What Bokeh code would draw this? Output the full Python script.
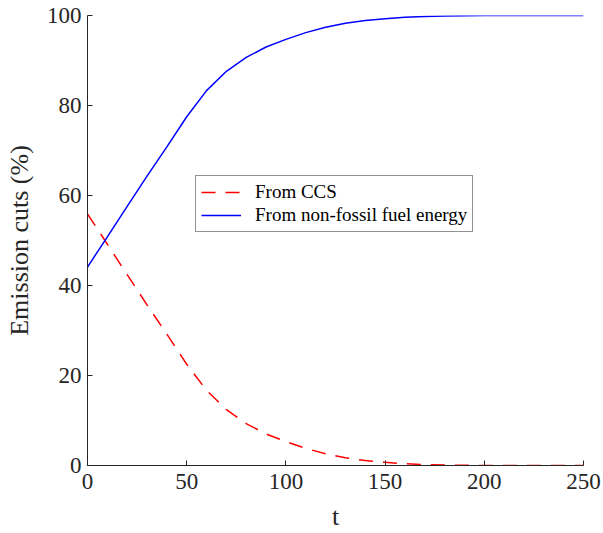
from bokeh.plotting import figure
from bokeh.models import Range1d, FixedTicker, Legend, LegendItem
from bokeh.embed import file_html
from bokeh.resources import INLINE

t = [0, 10, 20, 30, 40, 50, 60, 70, 80, 90, 100, 110, 120, 130, 140, 150,
     160, 170, 180, 190, 200, 210, 220, 230, 240, 250]
non_fossil = [44.1, 50.8, 57.6, 64.3, 70.8, 77.5, 83.3, 87.6, 90.7, 93.0, 94.7,
              96.2, 97.4, 98.3, 98.9, 99.3, 99.6, 99.8, 99.9, 99.95, 100.0,
              100.0, 100.0, 100.0, 100.0, 100.0]
ccs = [55.9, 49.2, 42.4, 35.7, 29.2, 22.5, 16.7, 12.4, 9.3, 7.0, 5.3,
       3.8, 2.6, 1.7, 1.1, 0.7, 0.4, 0.2, 0.1, 0.05, 0.0,
       0.0, 0.0, 0.0, 0.0, 0.0]
x_ticks = [0, 50, 100, 150, 200, 250]
y_ticks = [0, 20, 40, 60, 80, 100]

FONT = "Liberation Serif"
AX = "#262626"

p = figure(width=603, height=533, output_backend="svg", toolbar_location=None,
           x_range=Range1d(0, 250), y_range=Range1d(0, 100),
           min_border_left=87, min_border_right=20, min_border_top=15,
           min_border_bottom=68)
p.outline_line_color = None
p.grid.visible = False
p.background_fill_color = "white"
p.border_fill_color = "white"

r_ccs = p.line(t, ccs, line_color="#ff0000", line_width=1.5, line_dash="14 10")
r_nf = p.line(t, non_fossil, line_color="#0000ff", line_width=1.5)

p.xaxis.ticker = FixedTicker(ticks=x_ticks)
p.yaxis.ticker = FixedTicker(ticks=y_ticks)
for ax in (p.xaxis[0], p.yaxis[0]):
    ax.axis_line_color = AX
    ax.axis_line_width = 1
    ax.major_tick_line_color = AX
    ax.major_tick_in = 5
    ax.major_tick_out = 0
    ax.minor_tick_line_color = None
    ax.major_label_text_font = FONT
    ax.major_label_text_font_size = "23px"
    ax.major_label_text_color = AX
    ax.axis_label_text_font = FONT
    ax.axis_label_text_font_size = "26px"
    ax.axis_label_text_color = AX
    ax.axis_label_text_font_style = "normal"
p.xaxis.axis_label = "t"
p.yaxis.axis_label = "Emission cuts (%)"
p.xaxis.major_label_standoff = 8
p.yaxis.major_label_standoff = 6
p.xaxis.axis_label_standoff = 10
p.yaxis.axis_label_standoff = 10

legend = Legend(items=[LegendItem(label="From CCS", renderers=[r_ccs]),
                       LegendItem(label="From non-fossil fuel energy", renderers=[r_nf])],
                location=(108, 233))
legend.label_text_font = FONT
legend.label_text_font_size = "19px"
legend.label_text_color = "black"
legend.glyph_width = 40
legend.glyph_height = 20
legend.label_height = 20
legend.label_standoff = 14
legend.padding = 5
legend.spacing = 1
legend.margin = 0
legend.border_line_color = AX
legend.border_line_width = 1
legend.background_fill_color = "white"
p.add_layout(legend, "center")

open("out.html", "w").write(file_html(p, INLINE))
